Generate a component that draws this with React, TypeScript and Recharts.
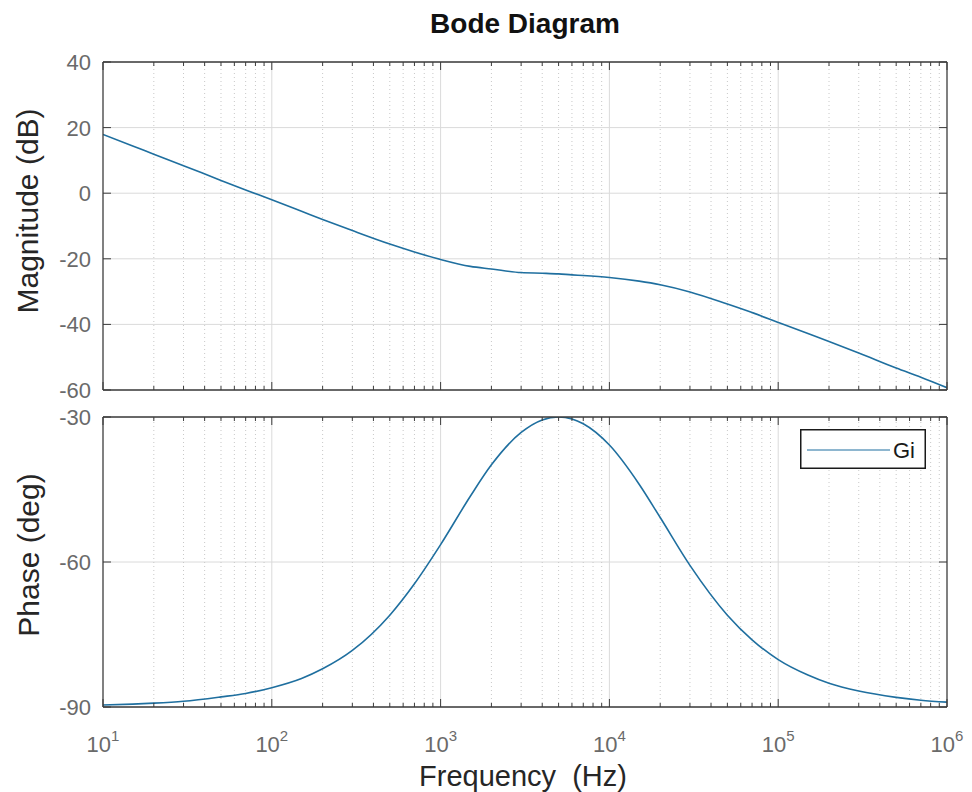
import React from 'react';
import {
  LineChart,
  Line,
  XAxis,
  YAxis,
  CartesianGrid,
  ReferenceLine,
  Legend,
} from 'recharts';

// frequency samples (Hz) and the response read at each of them
const freqHz = [
  10, 15, 20, 30, 50, 70, 100, 150, 200, 300, 500, 700, 1000, 1500, 2000, 3000, 4000, 5000,
  6000, 7000, 10000, 15000, 20000, 30000, 50000, 70000, 100000, 150000, 200000, 300000,
  500000, 700000, 1000000,
];
const magDb = [
  17.9, 14.4, 11.9, 8.4, 3.9, 1.0, -2.0, -5.5, -8.0, -11.4, -15.5, -17.9, -20.2, -22.3, -23.1,
  -24.2, -24.4, -24.6, -24.9, -25.1, -25.7, -26.8, -27.9, -30.1, -33.8, -36.4, -39.4, -42.8,
  -45.2, -48.7, -53.3, -56.1, -59.3,
];
const phaseDeg = [
  -89.6, -89.4, -89.2, -88.8, -87.9, -87.2, -86.0, -84.1, -82.1, -78.3, -71.0, -64.5, -56.4,
  -46.4, -39.9, -33.2, -30.6, -30.0, -30.4, -31.4, -35.8, -43.9, -50.8, -60.7, -71.0, -76.1,
  -80.2, -83.4, -85.1, -86.7, -88.0, -88.6, -89.0,
];

const decadeTicks = [10, 100, 1000, 10000, 100000, 1000000];
const magTicks = [-60, -40, -20, 0, 20, 40];
const phaseTicks = [-90, -60, -30];
const seriesName = 'Gi';

// minor log grid: 2..9 within every decade
const minorFreqs: number[] = [];
decadeTicks.slice(0, -1).forEach((d) => {
  for (let k = 2; k <= 9; k++) minorFreqs.push(d * k);
});
const allFreqTicks = [...decadeTicks, ...minorFreqs].sort((a, b) => a - b);

const magData = freqHz.map((f, i) => ({ f, mag: magDb[i] }));
const phaseData = freqHz.map((f, i) => ({ f, phase: phaseDeg[i] }));

const FONT = '"Liberation Sans", Arial, Helvetica, sans-serif';
const AXIS = '#3c3c3c';
const TICK_TEXT = '#6a6a6a';
const GRID = '#dadada';
const MINOR = '#c8c8c8';
const LINE = '#1f6f9f';

const W = 972;
// plot box edges; axes take 1px each, so margins are one less
const PLOT_L = 103;
const PLOT_R = 947;

const isDecade = (v: number) => Math.abs(Math.log10(v) - Math.round(Math.log10(v))) < 1e-9;

const XTick = (props: any) => {
  const { x, y, payload, side, label } = props;
  const v = payload.value;
  const major = isDecade(v);
  const len = major ? 8 : 4;
  const dir = side === 'top' ? 1 : -1;
  return (
    <g>
      <line x1={x} x2={x} y1={y} y2={y + dir * len} stroke={AXIS} strokeWidth={1} />
      {label && major && (
        <text x={x} y={y + 45} textAnchor="middle" fontFamily={FONT} fontSize={22} fill={TICK_TEXT}>
          10
          <tspan dy={-11} fontSize={15}>
            {Math.round(Math.log10(v))}
          </tspan>
        </text>
      )}
    </g>
  );
};

const YTick = (props: any) => {
  const { x, y, payload, side } = props;
  const dir = side === 'right' ? -1 : 1;
  return (
    <g>
      <line x1={x} x2={x + dir * 8} y1={y} y2={y} stroke={AXIS} strokeWidth={1} />
      {side !== 'right' && (
        <text x={x - 12} y={y + 8} textAnchor="end" fontFamily={FONT} fontSize={22} fill={TICK_TEXT}>
          {payload.value}
        </text>
      )}
    </g>
  );
};

const GiLegend = () => (
  <svg width={126} height={40}>
    <rect x={0.75} y={0.75} width={124.5} height={38.5} fill="#fff" stroke="#1a1a1a" strokeWidth={1.5} />
    <line x1={7} x2={90} y1={21} y2={21} stroke={LINE} strokeWidth={1.2} />
    <text x={93} y={29} fontFamily={FONT} fontSize={22} fill="#1a1a1a">
      {seriesName}
    </text>
  </svg>
);

function gridLines() {
  return [
    ...decadeTicks.slice(1, -1).map((f) => (
      <ReferenceLine key={`M${f}`} x={f} xAxisId="bottom" yAxisId="left" stroke={GRID} strokeWidth={1} />
    )),
    ...minorFreqs.map((f) => (
      <ReferenceLine
        key={`m${f}`}
        x={f}
        xAxisId="bottom"
        yAxisId="left"
        stroke={MINOR}
        strokeWidth={1}
        strokeDasharray="1 3"
      />
    )),
  ];
}

function axes(yDomain: number[], yTicks: number[], labelX: boolean) {
  return [
    <XAxis
      key="xb"
      xAxisId="bottom"
      dataKey="f"
      type="number"
      scale="log"
      domain={[10, 1000000]}
      ticks={allFreqTicks}
      interval={0}
      height={1}
      tickSize={0}
      tickMargin={0}
      allowDataOverflow
      axisLine={{ stroke: AXIS, strokeWidth: 1.3 }}
      tickLine={false}
      tick={(p: any) => <XTick {...p} side="bottom" label={labelX} />}
    />,
    <XAxis
      key="xt"
      xAxisId="top"
      orientation="top"
      dataKey="f"
      type="number"
      scale="log"
      domain={[10, 1000000]}
      ticks={allFreqTicks}
      interval={0}
      height={1}
      tickSize={0}
      tickMargin={0}
      allowDataOverflow
      axisLine={{ stroke: AXIS, strokeWidth: 1.3 }}
      tickLine={false}
      tick={(p: any) => <XTick {...p} side="top" label={false} />}
    />,
    <YAxis
      key="yl"
      yAxisId="left"
      type="number"
      domain={yDomain}
      ticks={yTicks}
      interval={0}
      width={1}
      tickSize={0}
      tickMargin={0}
      allowDataOverflow
      axisLine={{ stroke: AXIS, strokeWidth: 1.3 }}
      tickLine={false}
      tick={(p: any) => <YTick {...p} side="left" />}
    />,
    <YAxis
      key="yr"
      yAxisId="right"
      orientation="right"
      type="number"
      domain={yDomain}
      ticks={yTicks}
      interval={0}
      width={1}
      tickSize={0}
      tickMargin={0}
      allowDataOverflow
      axisLine={{ stroke: AXIS, strokeWidth: 1.3 }}
      tickLine={false}
      tick={(p: any) => <YTick {...p} side="right" />}
    />,
  ];
}

export default function App() {
  return (
    <div style={{ position: 'absolute', left: 0, top: 0, width: W, height: 792, background: '#fff' }}>
      <div style={{ position: 'absolute', left: 0, top: 0 }}>
        <LineChart
          width={W}
          height={412}
          data={magData}
          margin={{ top: 61, right: W - PLOT_R - 1, bottom: 21, left: PLOT_L - 1 }}
        >
          <CartesianGrid xAxisId="bottom" yAxisId="left" vertical={false} stroke={GRID} />
          {gridLines()}
          {axes([-60, 40], magTicks, false)}
          <Line
            xAxisId="bottom"
            yAxisId="left"
            dataKey="mag"
            name={seriesName}
            type="monotone"
            stroke={LINE}
            strokeWidth={1.6}
            dot={false}
            isAnimationActive={false}
          />
        </LineChart>
      </div>
      <div style={{ position: 'absolute', left: 0, top: 400 }}>
        <LineChart
          width={W}
          height={392}
          data={phaseData}
          margin={{ top: 16, right: W - PLOT_R - 1, bottom: 84, left: PLOT_L - 1 }}
        >
          <CartesianGrid xAxisId="bottom" yAxisId="left" vertical={false} stroke={GRID} />
          {gridLines()}
          {axes([-90, -30], phaseTicks, true)}
          <Line
            xAxisId="bottom"
            yAxisId="left"
            dataKey="phase"
            name={seriesName}
            type="monotone"
            stroke={LINE}
            strokeWidth={1.6}
            dot={false}
            isAnimationActive={false}
          />
          <Legend
            layout="horizontal"
            verticalAlign="middle"
            align="center"
            content={() => <GiLegend />}
            wrapperStyle={{ left: 800, top: 29, width: 126, height: 40 }}
          />
        </LineChart>
      </div>
      <svg width={W} height={792} style={{ position: 'absolute', left: 0, top: 0, pointerEvents: 'none' }}>
        <text x={525} y={33} textAnchor="middle" fontFamily={FONT} fontWeight="bold" fontSize={28} fill="#111">
          Bode Diagram
        </text>
        <text
          transform="translate(38 211) rotate(-90)"
          textAnchor="middle"
          fontFamily={FONT}
          fontSize={30}
          fill="#262626"
        >
          Magnitude (dB)
        </text>
        <text
          transform="translate(39 555) rotate(-90)"
          textAnchor="middle"
          fontFamily={FONT}
          fontSize={30}
          fill="#262626"
        >
          Phase (deg)
        </text>
        <text
          x={523}
          y={786}
          textAnchor="middle"
          fontFamily={FONT}
          fontSize={29}
          fill="#262626"
          style={{ whiteSpace: 'pre' }}
        >
          {'Frequency  (Hz)'}
        </text>
      </svg>
    </div>
  );
}
